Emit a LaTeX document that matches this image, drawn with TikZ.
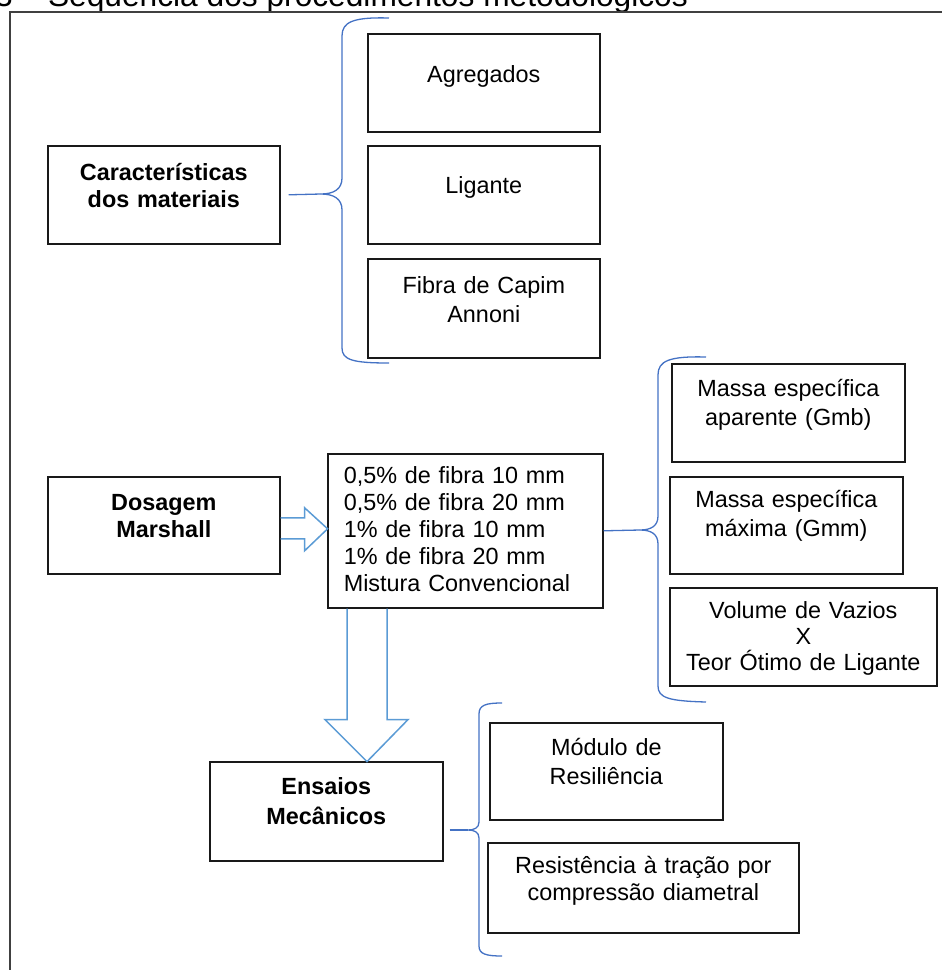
\documentclass[tikz,border=0pt]{standalone}
\usepackage{fontspec}
\setmainfont{Liberation Sans}
\usetikzlibrary{positioning}
\definecolor{azulchave}{HTML}{4472C4}
\definecolor{azulseta}{HTML}{5B9BD5}

\begin{document}
\begin{tikzpicture}[x=1pt, y=-1pt,
    caixa/.style={
        draw=black!90,
        line width=1.6pt,
        inner sep=0pt,
        align=center,
        anchor=north west,
        font=\fontsize{23.4}{28.5}\selectfont},
    negrito/.style={font=\fontsize{23.4}{27}\selectfont\bfseries},
    chave/.style={draw=azulchave, line width=1.3pt},
    seta/.style={draw=azulseta, line width=1.5pt}]

    \useasboundingbox (0,0) rectangle (942,970);
    \clip (0,0) rectangle (942,970);

    \node[anchor=base east, inner sep=0pt, font=\fontsize{31.7}{38}\selectfont] (titulo) at (688,6) {Figura 3 – Sequência dos procedimentos metodológicos};
    \draw[line width=1.8pt, draw=black!75] (10,12) rectangle (960,990);

    \node[caixa, negrito, text width=232pt, text height=35pt, text depth=63pt] (carac) at (47,145) {Características\\dos materiais};
    \node[caixa, text width=232pt, text height=49pt, text depth=49pt] (agreg) at (367,33) {Agregados};
    \node[caixa, text width=232pt, text height=48pt, text depth=50pt] (ligan) at (367,145) {Ligante};
    \node[caixa, text width=232pt, text height=35pt, text depth=64pt] (fibra) at (367,258) {Fibra de Capim\\Annoni};

    \node[caixa, negrito, text width=232pt, text height=34pt, text depth=63pt] (dosag) at (47,476) {Dosagem\\Marshall};
    \node[caixa, align=left, inner xsep=16pt, text width=243pt, text height=30pt, text depth=124pt,
        font=\fontsize{23.4}{26.8}\selectfont] (mistura) at (327,453)
        {0,5\% de fibra 10 mm\\0,5\% de fibra 20 mm\\1\% de fibra 10 mm\\1\% de fibra 20 mm\\Mistura Convencional};
    \node[caixa, text width=233pt, text height=33pt, text depth=65pt] (gmb) at (671,363) {Massa específica\\aparente (Gmb)};
    \node[caixa, text width=233pt, text height=31pt, text depth=66pt] (gmm) at (669,476) {Massa específica\\máxima (Gmm)};
    \node[caixa, text width=267pt, text height=31pt, text depth=67pt,
        font=\fontsize{23.4}{26}\selectfont] (vazios) at (669,587) {Volume de Vazios\\X\\Teor Ótimo de Ligante};

    \node[caixa, text width=233pt, text height=33pt, text depth=66pt,
        font=\fontsize{23.4}{30}\selectfont\bfseries] (ensaios) at (209,761) {Ensaios\\Mecânicos};
    \node[caixa, text width=233pt, text height=33pt, text depth=64pt] (modulo) at (489,722) {Módulo de\\Resiliência};
    \node[caixa, text width=311pt, text height=31pt, text depth=59pt,
        font=\fontsize{23.4}{27}\selectfont] (resist) at (487,842) {Resistência à tração por\\compressão diametral};

    \coordinate (ch1) at (321,194);
    \coordinate (ch2) at (640,530);
    \coordinate (ch3) at (468,830);

    \draw[chave] ([xshift=8pt]carac.east) -- (ch1);
    \draw[chave] (mistura.east) -- (ch2);
    \draw[chave] (ensaios.east |- ch3) ++(6,0) -- (ch3);

    \draw[chave] (389,18) .. controls (353,17) and (342,22) .. (342,36)
        -- (342,178) .. controls (342,189) and (334,194) .. (ch1)
        .. controls (334,194) and (342,199) .. (342,210)
        -- (342,348) .. controls (342,360) and (353,363) .. (389,363);
    \draw[chave] (706,357) .. controls (669,356) and (658,361) .. (658,375)
        -- (658,516) .. controls (658,526) and (651,530) .. (ch2)
        .. controls (651,530) and (658,534) .. (658,544)
        -- (658,686) .. controls (658,698) and (669,701) .. (706,702);
    \draw[chave] (502,703) .. controls (486,703) and (479,705) .. (479,714)
        -- (479,822) .. controls (479,828) and (474,830) .. (ch3)
        .. controls (474,830) and (479,832) .. (479,838)
        -- (479,946) .. controls (479,954) and (486,956) .. (502,956);

    \draw[seta] (dosag.east) ++(0,-7.5) -- ++(24,0) -- ++(0,-10) -- ++(23,21) -- ++(-23,22) -- ++(0,-12) -- ++(-24,0);
    \draw[seta] (mistura.south west) ++(20,0) -- ++(0,111) -- ++(-22,0) -- ++(42,42) -- ++(41,-42) -- ++(-21,0) -- ++(0,-111);
\end{tikzpicture}
\end{document}
